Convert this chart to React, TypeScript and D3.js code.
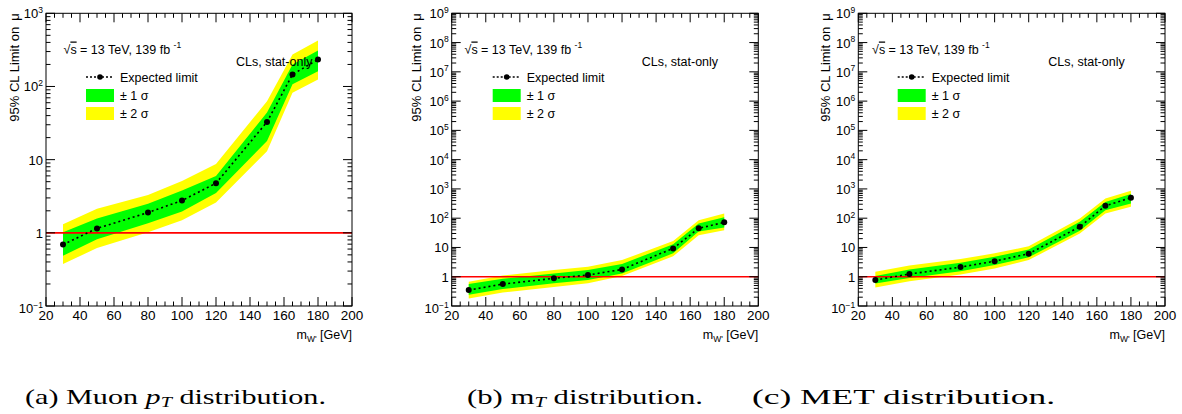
import React from 'react';
import * as d3 from 'd3';

const massPoints = [30, 50, 80, 100, 120, 150, 165, 180];

// Panel (a) Muon pT
const expA = [0.69, 1.15, 1.89, 2.76, 4.76, 32.7, 146, 234];
const g1UpA = [1.02, 1.57, 2.5, 3.8, 6.0, 44, 200, 310];
const g1DnA = [0.485, 0.82, 1.35, 1.95, 3.5, 18, 107, 162];
const g2UpA = [1.31, 2.14, 3.3, 5.1, 8.7, 63, 274, 425];
const g2DnA = [0.374, 0.62, 1.02, 1.48, 2.6, 13, 82, 125];

// Panel (b) mT
const expB = [0.35, 0.56, 0.88, 1.14, 1.78, 9.3, 45, 72];
const g1UpB = [0.56, 0.85, 1.3, 1.7, 2.7, 13, 66, 107];
const g1DnB = [0.24, 0.38, 0.6, 0.78, 1.3, 6.3, 35, 48];
const g2UpB = [0.68, 1.1, 1.7, 2.2, 3.7, 16.5, 85, 145];
const g2DnB = [0.18, 0.29, 0.45, 0.6, 1.05, 5, 26, 39];

// Panel (c) MET
const expC = [0.77, 1.24, 2.13, 3.4, 6.1, 51, 265, 500];
const g1UpC = [1.05, 1.75, 3.0, 4.8, 8.6, 75, 360, 665];
const g1DnC = [0.59, 0.9, 1.55, 2.5, 4.6, 37, 188, 320];
const g2UpC = [1.48, 2.4, 4.0, 6.3, 11, 98, 470, 860];
const g2DnC = [0.43, 0.7, 1.2, 1.9, 3.7, 30, 146, 245];

const xDomain = [20, 200];
const xMajorTicks = [20, 40, 60, 80, 100, 120, 140, 160, 180, 200];
const xMinorStep = 5;

const yAxisTitle = '95% CL Limit on';
const xAxisUnit = ' [GeV]';
const energyText = '13 TeV, 139 fb';
const clsText = 'CLs, stat-only';
const legendLabels = ['Expected limit', '\u00b1 1 \u03c3', '\u00b1 2 \u03c3'];
const captions = ['(a) Muon ', '(b) m', '(c) MET distribution.'];

const SANS = '"Liberation Sans", Arial, Helvetica, sans-serif';
const SERIF = '"Liberation Serif", "Times New Roman", serif';

type PanelCfg = {
  left: number;
  right: number;
  top: number;
  bottom: number;
  ymin: number;
  ymax: number;
  exp: number[];
  g1u: number[];
  g1d: number[];
  g2u: number[];
  g2d: number[];
  sqrtX: number;
  clsX: number;
  legX: number;
  ytitleX: number;
};

type Row = { m: number; e: number; g1u: number; g1d: number; g2u: number; g2d: number };

function Panel({ c }: { c: PanelCfg }) {
  const x = d3.scaleLinear().domain(xDomain).range([c.left, c.right]);
  const y = d3.scaleLog().domain([c.ymin, c.ymax]).range([c.bottom, c.top]);
  const rows: Row[] = massPoints.map((m, i) => ({
    m,
    e: c.exp[i],
    g1u: c.g1u[i],
    g1d: c.g1d[i],
    g2u: c.g2u[i],
    g2d: c.g2d[i],
  }));
  const area2 = d3
    .area<Row>()
    .x((d) => x(d.m))
    .y0((d) => y(d.g2d))
    .y1((d) => y(d.g2u));
  const area1 = d3
    .area<Row>()
    .x((d) => x(d.m))
    .y0((d) => y(d.g1d))
    .y1((d) => y(d.g1u));
  const line = d3
    .line<Row>()
    .x((d) => x(d.m))
    .y((d) => y(d.e));

  const eMin = Math.round(Math.log10(c.ymin));
  const eMax = Math.round(Math.log10(c.ymax));
  const decades = d3.range(eMin, eMax + 1);
  const minors: number[] = [];
  for (let e = eMin; e < eMax; e++) {
    for (let k = 2; k <= 9; k++) minors.push(k * Math.pow(10, e));
  }
  const xMinors = d3.range(xDomain[0], xDomain[1] + 0.001, xMinorStep).filter((v) => v % 20 !== 0);

  const majLen = 9;
  const minLen = 4.5;

  const label = (e: number) => {
    if (e === 0) return '1';
    if (e === 1) return '10';
    return (
      <>
        10
        <tspan fontSize={8.5} dy={-5.5}>
          {e < 0 ? '\u2212' + Math.abs(e) : String(e)}
        </tspan>
      </>
    );
  };

  const legY0 = 77;
  const legLineX0 = c.legX;
  const legLineX1 = c.legX + 28;

  return (
    <g fontFamily={SANS}>
      <path d={area2(rows) || ''} fill="#ffff00" stroke="none" />
      <path d={area1(rows) || ''} fill="#00ff00" stroke="none" />
      <line x1={c.left} x2={c.right} y1={y(1)} y2={y(1)} stroke="#ff0000" strokeWidth={1.6} />
      <path d={line(rows) || ''} fill="none" stroke="#000" strokeWidth={1.6} strokeDasharray="2,3" />
      {rows.map((d, i) => (
        <circle key={i} cx={x(d.m)} cy={y(d.e)} r={3} fill="#000" />
      ))}

      {/* frame */}
      <rect x={c.left} y={c.top} width={c.right - c.left} height={c.bottom - c.top} fill="none" stroke="#000" strokeWidth={1} />

      {/* x ticks */}
      {xMajorTicks.map((v) => (
        <g key={'xm' + v}>
          <line x1={x(v)} x2={x(v)} y1={c.bottom} y2={c.bottom - majLen} stroke="#000" />
          <line x1={x(v)} x2={x(v)} y1={c.top} y2={c.top + majLen} stroke="#000" />
          <text x={x(v)} y={320} fontSize={13.5} textAnchor="middle">
            {v}
          </text>
        </g>
      ))}
      {xMinors.map((v) => (
        <g key={'xn' + v}>
          <line x1={x(v)} x2={x(v)} y1={c.bottom} y2={c.bottom - minLen} stroke="#000" />
          <line x1={x(v)} x2={x(v)} y1={c.top} y2={c.top + minLen} stroke="#000" />
        </g>
      ))}

      {/* y ticks */}
      {decades.map((e) => {
        const v = Math.pow(10, e);
        return (
          <g key={'ym' + e}>
            <line x1={c.left} x2={c.left + majLen} y1={y(v)} y2={y(v)} stroke="#000" />
            <line x1={c.right} x2={c.right - majLen} y1={y(v)} y2={y(v)} stroke="#000" />
            <text x={c.left - 3} y={y(v) + (e < 0 ? 7 : 5)} fontSize={13} textAnchor="end">
              {label(e)}
            </text>
          </g>
        );
      })}
      {minors.map((v, i) => (
        <g key={'yn' + i}>
          <line x1={c.left} x2={c.left + minLen} y1={y(v)} y2={y(v)} stroke="#000" />
          <line x1={c.right} x2={c.right - minLen} y1={y(v)} y2={y(v)} stroke="#000" />
        </g>
      ))}

      {/* axis titles */}
      <text transform={`translate(${c.ytitleX},${c.top}) rotate(-90)`} fontSize={13} textAnchor="end">
        {yAxisTitle}
        <tspan dx={6}>{'\u03bc'}</tspan>
      </text>
      <text x={c.right} y={339} fontSize={12.5} textAnchor="end">
        m
        <tspan fontSize={8.5} dy={3}>
          W'
        </tspan>
        <tspan dy={-3}>{xAxisUnit}</tspan>
      </text>

      {/* annotations */}
      <text x={c.sqrtX} y={53.5} fontSize={12.5}>
        {'\u221a'}
        <tspan textDecoration="overline">s</tspan>
        {' = ' + energyText + ' '}
        <tspan fontSize={8.5} dy={-5.5}>
          -1
        </tspan>
      </text>
      <text x={c.clsX} y={66} fontSize={12.5}>
        {clsText}
      </text>

      {/* legend */}
      <line x1={legLineX0} x2={legLineX1} y1={legY0} y2={legY0} stroke="#000" strokeWidth={1.3} strokeDasharray="2,2" />
      <circle cx={(legLineX0 + legLineX1) / 2} cy={legY0} r={2.8} fill="#000" />
      <text x={legLineX1 + 6} y={legY0 + 4.5} fontSize={12.5}>
        {legendLabels[0]}
      </text>
      <rect x={legLineX0} y={89} width={28} height={13} fill="#00ff00" />
      <text x={legLineX1 + 6} y={100} fontSize={12.5}>
        {legendLabels[1]}
      </text>
      <rect x={legLineX0} y={107} width={28} height={13} fill="#ffff00" />
      <text x={legLineX1 + 6} y={118} fontSize={12.5}>
        {legendLabels[2]}
      </text>
    </g>
  );
}

const panels: PanelCfg[] = [
  {
    left: 46, right: 352, top: 13.3, bottom: 306, ymin: 0.1, ymax: 1000,
    exp: expA, g1u: g1UpA, g1d: g1DnA, g2u: g2UpA, g2d: g2DnA,
    sqrtX: 63.5, clsX: 236, legX: 86, ytitleX: 18.5,
  },
  {
    left: 451.7, right: 758.3, top: 13.3, bottom: 306, ymin: 0.1, ymax: 1e9,
    exp: expB, g1u: g1UpB, g1d: g1DnB, g2u: g2UpB, g2d: g2DnB,
    sqrtX: 464.5, clsX: 641.7, legX: 492.7, ytitleX: 420.5,
  },
  {
    left: 858.3, right: 1165, top: 13.3, bottom: 306, ymin: 0.1, ymax: 1e9,
    exp: expC, g1u: g1UpC, g1d: g1DnC, g2u: g2UpC, g2d: g2DnC,
    sqrtX: 872, clsX: 1048.3, legX: 897.7, ytitleX: 829.5,
  },
];

export default function App() {
  return (
    <svg
      width={1182}
      height={414}
      viewBox="0 0 1182 414"
      style={{ position: 'absolute', left: 0, top: 0, background: '#fff' }}
    >
      <rect x={0} y={0} width={1182} height={414} fill="#fff" />
      {panels.map((p, i) => (
        <Panel key={i} c={p} />
      ))}
      <g fontFamily={SERIF} fontSize={21} fill="#000">
        <text x={25} y={404} textLength={301} lengthAdjust="spacingAndGlyphs">
          {captions[0]}
          <tspan fontStyle="italic">p</tspan>
          <tspan fontStyle="italic" fontSize={14} dy={3}>T</tspan>
          <tspan dy={-3}> distribution.</tspan>
        </text>
        <text x={467} y={404} textLength={236} lengthAdjust="spacingAndGlyphs">
          {captions[1]}
          <tspan fontStyle="italic" fontSize={14} dy={3}>T</tspan>
          <tspan dy={-3}> distribution.</tspan>
        </text>
        <text x={752} y={404} textLength={303} lengthAdjust="spacingAndGlyphs">
          {captions[2]}
        </text>
      </g>
    </svg>
  );
}
